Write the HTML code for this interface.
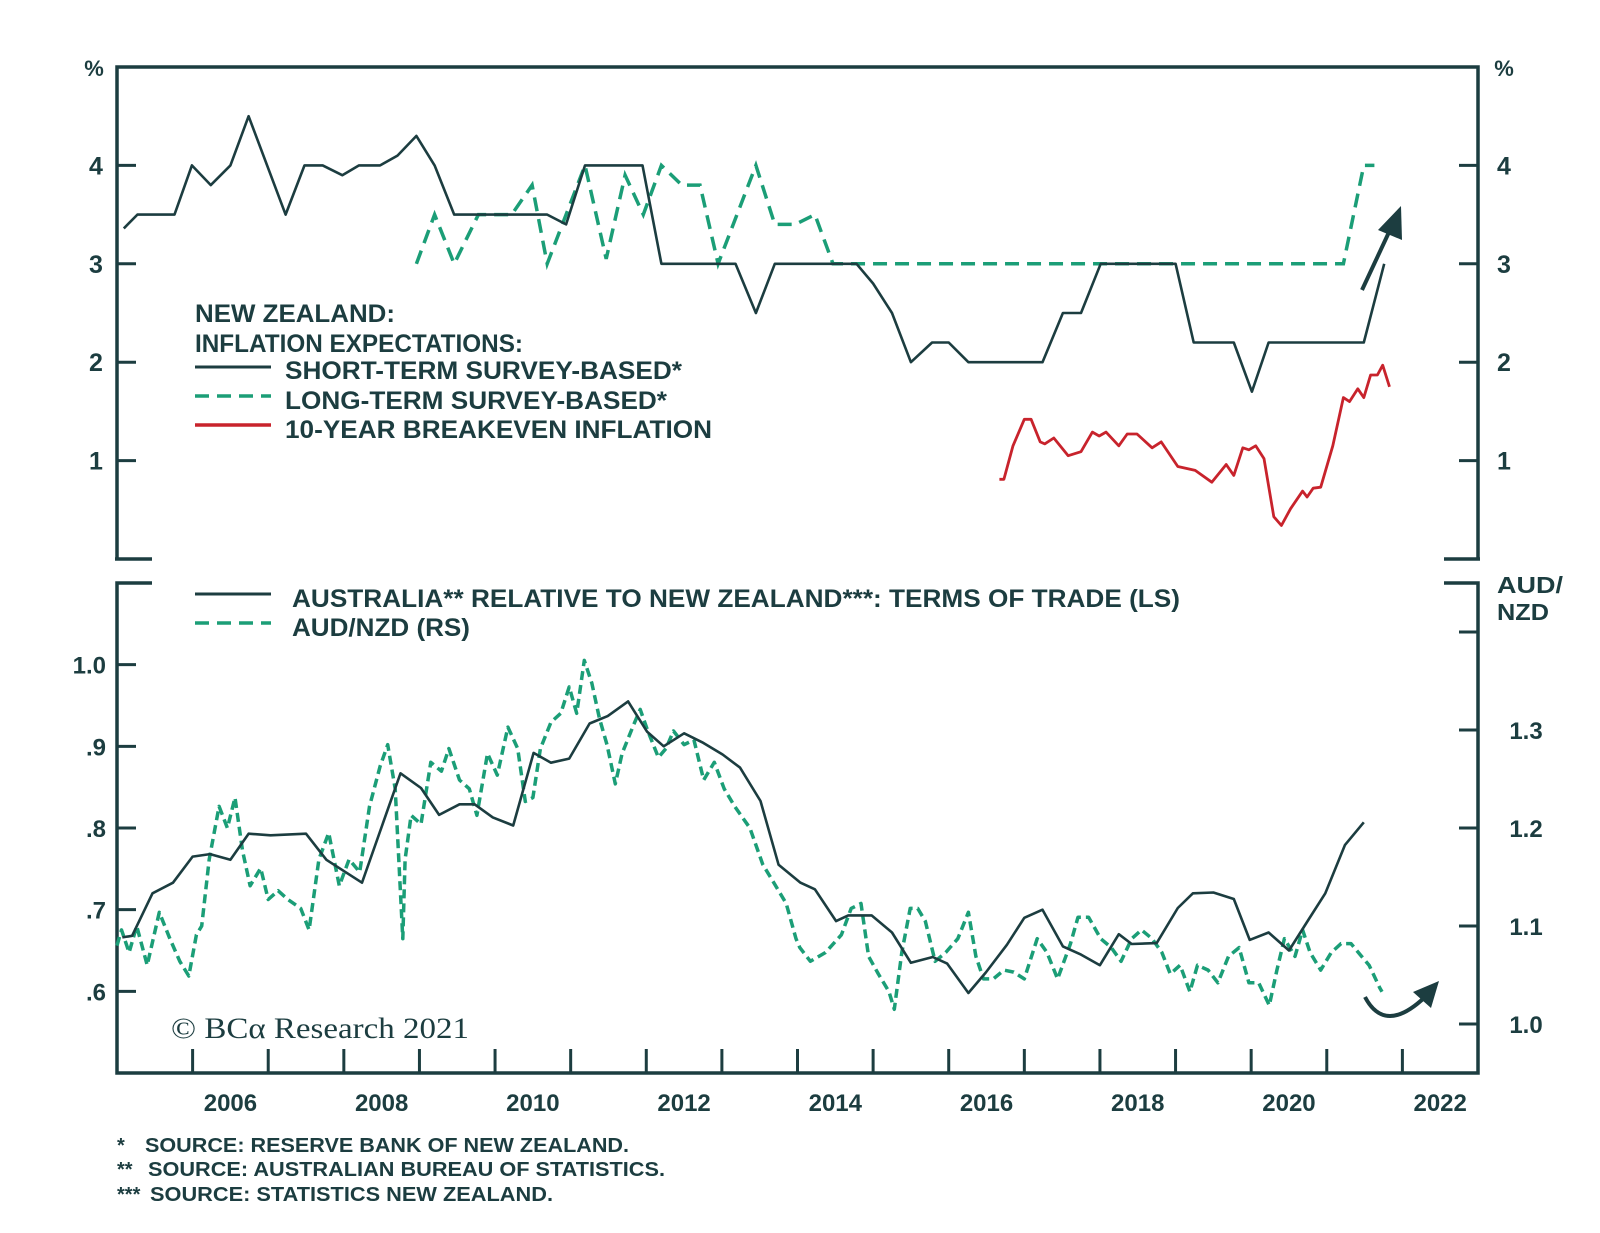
<!DOCTYPE html>
<html><head><meta charset="utf-8"><style>
html,body{margin:0;padding:0;background:#fff;}
svg{display:block;}
text{font-family:"Liberation Sans",Arial,sans-serif;font-weight:bold;fill:#1c3d40;}
</style></head><body>
<svg id="chart" width="1600" height="1233" viewBox="0 0 1600 1233" xmlns="http://www.w3.org/2000/svg">
<g id="frame" stroke="#1c3d40" stroke-width="3.5" fill="none">
  <polyline points="117,559 117,67 1478,67 1478,559" />
  <line x1="115" y1="559" x2="152" y2="559"/>
  <line x1="1444" y1="559" x2="1480" y2="559"/>
  <polyline points="152,583 117,583 117,1073 1478,1073 1478,583 1444,583"/>
</g>
<g id="ticks" stroke="#1c3d40" stroke-width="3"></g>
<g id="labels"></g>
<g id="series"></g>

<text x="94" y="76" font-size="22" text-anchor="middle">%</text>
<text x="1504" y="76" font-size="22" text-anchor="middle">%</text>
<text x="1497" y="593" font-size="23" textLength="66" lengthAdjust="spacingAndGlyphs">AUD/</text>
<text x="1497" y="620" font-size="23" textLength="52" lengthAdjust="spacingAndGlyphs">NZD</text>

<g>
  <text x="195" y="322" font-size="25" textLength="200" lengthAdjust="spacingAndGlyphs">NEW ZEALAND:</text>
  <text x="195" y="352" font-size="25" textLength="328" lengthAdjust="spacingAndGlyphs">INFLATION EXPECTATIONS:</text>
  <line x1="195" y1="367" x2="271" y2="367" stroke="#1c3d40" stroke-width="3"/>
  <text x="285" y="379" font-size="25" textLength="397" lengthAdjust="spacingAndGlyphs">SHORT-TERM SURVEY-BASED*</text>
  <line x1="195" y1="396" x2="271" y2="396" stroke="#1b9e77" stroke-width="3.5" stroke-dasharray="14 8"/>
  <text x="285" y="409" font-size="25" textLength="382" lengthAdjust="spacingAndGlyphs">LONG-TERM SURVEY-BASED*</text>
  <line x1="195" y1="425" x2="271" y2="425" stroke="#c8232c" stroke-width="3.5"/>
  <text x="285" y="438" font-size="25" textLength="427" lengthAdjust="spacingAndGlyphs">10-YEAR BREAKEVEN INFLATION</text>
</g>
<g>
  <line x1="195" y1="594" x2="271" y2="594" stroke="#1c3d40" stroke-width="3"/>
  <text x="292" y="607" font-size="25" textLength="888" lengthAdjust="spacingAndGlyphs">AUSTRALIA** RELATIVE TO NEW ZEALAND***: TERMS OF TRADE (LS)</text>
  <line x1="195" y1="623" x2="271" y2="623" stroke="#1b9e77" stroke-width="3.5" stroke-dasharray="14 8"/>
  <text x="292" y="636" font-size="25" textLength="178" lengthAdjust="spacingAndGlyphs">AUD/NZD (RS)</text>
</g>

<text x="171" y="1038" font-size="30" textLength="298" lengthAdjust="spacingAndGlyphs" style="font-family:'Liberation Serif',serif;font-weight:normal">© BCα Research 2021</text>

<g>
  <line x1="1362" y1="290" x2="1390" y2="230" stroke="#1c3d40" stroke-width="4"/>
  <polygon points="1401,206 1378,230 1402,240" fill="#1c3d40"/>
  <path d="M1365,997 Q1385,1035 1425,997" stroke="#1c3d40" stroke-width="4" fill="none"/>
  <polygon points="1439,981 1413,992 1431,1008" fill="#1c3d40"/>
</g>

<g>
  <text x="117" y="1152" font-size="20">*</text>
  <text x="145" y="1152" font-size="20" textLength="484" lengthAdjust="spacingAndGlyphs">SOURCE: RESERVE BANK OF NEW ZEALAND.</text>
  <text x="117" y="1176" font-size="20">**</text>
  <text x="148" y="1176" font-size="20" textLength="517" lengthAdjust="spacingAndGlyphs">SOURCE: AUSTRALIAN BUREAU OF STATISTICS.</text>
  <text x="117" y="1201" font-size="20">***</text>
  <text x="150" y="1201" font-size="20" textLength="403" lengthAdjust="spacingAndGlyphs">SOURCE: STATISTICS NEW ZEALAND.</text>
</g>
</svg>
<script>
const xYears = [2006,2007,2008,2009,2010,2011,2012,2013,2014,2015,2016,2017,2018,2019,2020,2021,2022];
const xLabels = ["2006","2008","2010","2012","2014","2016","2018","2020","2022"];
const topTicks = [1,2,3,4];
const botLeftTicks = [0.6,0.7,0.8,0.9,1.0];
const botLeftLabels = [".6",".7",".8",".9","1.0"];
const botRightTicks = [1.0,1.1,1.2,1.3,1.4];
const botRightLabels = ["1.0","1.1","1.2","1.3",""];

const stYears = [2005.09,2005.27,2005.76,2005.99,2006.24,2006.5,2006.74,2007.23,2007.48,2007.72,2007.98,2008.2,2008.48,2008.71,2008.96,2009.2,2009.46,2010.69,2010.94,2011.19,2011.95,2012.2,2013.18,2013.45,2013.7,2014.78,2015.0,2015.25,2015.5,2015.78,2016.0,2016.26,2017.24,2017.51,2017.75,2018.01,2019.0,2019.24,2019.77,2020.01,2020.23,2021.49,2021.76];
const stVals = [3.36,3.5,3.5,4.0,3.8,4.0,4.5,3.5,4.0,4.0,3.9,4.0,4.0,4.1,4.3,4.0,3.5,3.5,3.4,4.0,4.0,3.0,3.0,2.5,3.0,3.0,2.8,2.5,2.0,2.2,2.2,2.0,2.0,2.5,2.5,3.0,3.0,2.2,2.2,1.7,2.2,2.2,3.0];

const ltYears = [2008.96,2009.2,2009.46,2009.78,2010.22,2010.49,2010.69,2011.19,2011.47,2011.72,2011.96,2012.2,2012.47,2012.71,2012.95,2013.45,2013.7,2013.97,2014.23,2014.47,2021.22,2021.49,2021.63];
const ltVals = [3.0,3.5,3.0,3.5,3.5,3.8,3.0,4.0,3.05,3.9,3.5,4.0,3.8,3.8,3.0,4.0,3.4,3.4,3.5,3.0,3.0,4.0,4.0];

const beYears = [2016.67,2016.73,2016.85,2017.0,2017.09,2017.21,2017.27,2017.39,2017.58,2017.75,2017.9,2017.99,2018.08,2018.25,2018.36,2018.49,2018.69,2018.81,2019.03,2019.26,2019.48,2019.67,2019.77,2019.89,2019.97,2020.06,2020.17,2020.3,2020.4,2020.52,2020.68,2020.74,2020.82,2020.92,2021.08,2021.22,2021.3,2021.41,2021.49,2021.58,2021.67,2021.74,2021.83];
const beVals = [0.81,0.81,1.15,1.42,1.42,1.19,1.17,1.23,1.05,1.09,1.29,1.25,1.29,1.15,1.27,1.27,1.13,1.19,0.94,0.9,0.78,0.96,0.85,1.13,1.11,1.15,1.02,0.43,0.34,0.51,0.69,0.63,0.72,0.73,1.15,1.64,1.6,1.73,1.64,1.87,1.87,1.97,1.75];

const totYears = [2005.07,2005.2,2005.47,2005.74,2006.0,2006.23,2006.5,2006.74,2007.03,2007.5,2007.77,2008.24,2008.75,2009.02,2009.26,2009.53,2009.73,2009.97,2010.24,2010.51,2010.74,2010.98,2011.25,2011.49,2011.76,2012.01,2012.23,2012.5,2012.74,2013.01,2013.24,2013.51,2013.75,2014.04,2014.23,2014.51,2014.67,2014.98,2015.25,2015.5,2015.79,2015.98,2016.26,2016.49,2016.77,2017.0,2017.24,2017.51,2017.75,2018.0,2018.25,2018.42,2018.75,2019.03,2019.23,2019.5,2019.77,2019.98,2020.23,2020.5,2020.76,2020.98,2021.24,2021.49];
const totVals = [0.666,0.668,0.72,0.733,0.765,0.768,0.761,0.793,0.791,0.793,0.761,0.733,0.867,0.849,0.816,0.829,0.829,0.813,0.803,0.892,0.88,0.885,0.928,0.937,0.955,0.918,0.9,0.916,0.905,0.89,0.874,0.833,0.755,0.733,0.725,0.686,0.693,0.693,0.672,0.635,0.642,0.634,0.598,0.623,0.657,0.69,0.7,0.655,0.645,0.632,0.67,0.658,0.659,0.702,0.72,0.721,0.713,0.663,0.672,0.65,0.688,0.72,0.779,0.807];

const fxYears = [2005.0,2005.06,2005.16,2005.26,2005.4,2005.56,2005.7,2005.83,2005.95,2006.05,2006.12,2006.22,2006.35,2006.46,2006.56,2006.66,2006.76,2006.9,2007.0,2007.13,2007.26,2007.43,2007.54,2007.67,2007.8,2007.94,2008.07,2008.21,2008.34,2008.48,2008.58,2008.68,2008.78,2008.81,2008.89,2009.02,2009.15,2009.29,2009.39,2009.53,2009.66,2009.76,2009.9,2010.03,2010.17,2010.3,2010.4,2010.5,2010.6,2010.74,2010.87,2010.98,2011.08,2011.18,2011.28,2011.38,2011.48,2011.59,2011.68,2011.82,2011.92,2012.02,2012.16,2012.26,2012.36,2012.5,2012.63,2012.76,2012.9,2013.03,2013.17,2013.37,2013.54,2013.68,2013.85,2013.98,2014.03,2014.17,2014.37,2014.58,2014.71,2014.84,2014.94,2015.07,2015.21,2015.28,2015.38,2015.49,2015.59,2015.69,2015.82,2015.96,2016.12,2016.26,2016.36,2016.46,2016.59,2016.73,2016.86,2017.0,2017.17,2017.3,2017.44,2017.61,2017.71,2017.85,2018.01,2018.15,2018.28,2018.42,2018.55,2018.69,2018.82,2018.93,2019.06,2019.19,2019.29,2019.43,2019.56,2019.7,2019.84,2019.97,2020.1,2020.24,2020.34,2020.44,2020.58,2020.68,2020.78,2020.92,2021.06,2021.19,2021.32,2021.46,2021.56,2021.7,2021.73];
const fxVals = [1.08,1.096,1.073,1.10,1.06,1.114,1.087,1.064,1.049,1.091,1.10,1.168,1.222,1.2,1.231,1.177,1.141,1.159,1.127,1.136,1.127,1.118,1.096,1.168,1.195,1.141,1.168,1.155,1.222,1.263,1.285,1.24,1.087,1.168,1.213,1.204,1.267,1.258,1.281,1.249,1.24,1.213,1.276,1.254,1.303,1.281,1.227,1.231,1.281,1.308,1.317,1.344,1.317,1.371,1.348,1.312,1.285,1.245,1.276,1.303,1.321,1.299,1.272,1.281,1.299,1.285,1.29,1.249,1.267,1.24,1.222,1.2,1.163,1.145,1.123,1.087,1.078,1.064,1.073,1.091,1.118,1.123,1.069,1.051,1.033,1.015,1.073,1.118,1.118,1.105,1.064,1.073,1.087,1.114,1.069,1.046,1.046,1.055,1.053,1.046,1.087,1.073,1.046,1.082,1.109,1.109,1.087,1.078,1.064,1.087,1.096,1.087,1.073,1.051,1.06,1.033,1.06,1.055,1.042,1.069,1.078,1.042,1.042,1.019,1.055,1.087,1.069,1.096,1.073,1.055,1.073,1.082,1.082,1.069,1.06,1.037,1.033];

const NS = "http://www.w3.org/2000/svg";
const X0 = 117, X1 = 1478, Y0 = 2005, Y1 = 2023;
function xs(yr){ return X0 + (yr - Y0) / (Y1 - Y0) * (X1 - X0); }
function yTop(v){ return 559 - v / 5 * (559 - 67); }
function yBotL(v){ return 1073 - (v - 0.5) / 0.6 * (1073 - 583); }
function yBotR(v){ return 1073 - (v - 0.95) / 0.5 * (1073 - 583); }

const ticks = document.getElementById('ticks');
const labels = document.getElementById('labels');
const series = document.getElementById('series');

function mk(tag, attrs, parent){
  const e = document.createElementNS(NS, tag);
  for (const k in attrs) e.setAttribute(k, attrs[k]);
  parent.appendChild(e);
  return e;
}

xYears.forEach(function(yr){
  const t = mk('line', {x1: xs(yr), x2: xs(yr), y1: 1049, y2: 1073}, ticks);
  
  
});
xLabels.forEach(function(lab){
  const yr = parseInt(lab, 10);
  const t = mk('text', {x: xs(yr + 0.5), y: 1111, 'font-size': 24, 'text-anchor': 'middle'}, labels);
  t.textContent = lab;
  
  
});
topTicks.forEach(function(v){
  const a = mk('line', {x1: 117, x2: 136, y1: yTop(v), y2: yTop(v)}, ticks);
  
  
  const b = mk('line', {x1: 1459, x2: 1478, y1: yTop(v), y2: yTop(v)}, ticks);
  
  
  const l = mk('text', {x: 96, y: yTop(v) + 9, 'font-size': 25, 'text-anchor': 'middle'}, labels);
  l.textContent = String(v);
  
  
  const r = mk('text', {x: 1504, y: yTop(v) + 9, 'font-size': 25, 'text-anchor': 'middle'}, labels);
  r.textContent = String(v);
  
  
});
botLeftTicks.forEach(function(v, i){
  const a = mk('line', {x1: 117, x2: 136, y1: yBotL(v), y2: yBotL(v)}, ticks);
  
  
  const l = mk('text', {x: 106, y: yBotL(v) + 9, 'font-size': 24, 'text-anchor': 'end'}, labels);
  l.textContent = botLeftLabels[i];
  
  
});
botRightTicks.forEach(function(v, i){
  const a = mk('line', {x1: 1459, x2: 1478, y1: yBotR(v), y2: yBotR(v)}, ticks);
  
  
  if (botRightLabels[i]) {
    const l = mk('text', {x: 1526, y: yBotR(v) + 9, 'font-size': 24, 'text-anchor': 'middle'}, labels);
    l.textContent = botRightLabels[i];
    
    
  }
});

function pts(years, vals, yf){
  return years.map(function(yr, i){ return xs(yr).toFixed(1) + ',' + yf(vals[i]).toFixed(1); }).join(' ');
}
const fx = mk('polyline', {points: pts(fxYears, fxVals, yBotR), fill: 'none', stroke: '#1b9e77', 'stroke-width': 3.5, 'stroke-dasharray': '9 5', 'stroke-linejoin': 'round'}, series);


const tot = mk('polyline', {points: pts(totYears, totVals, yBotL), fill: 'none', stroke: '#1c3d40', 'stroke-width': 2.6, 'stroke-linejoin': 'round'}, series);


const lt = mk('polyline', {points: pts(ltYears, ltVals, yTop), fill: 'none', stroke: '#1b9e77', 'stroke-width': 3.5, 'stroke-dasharray': '14 8'}, series);


const st = mk('polyline', {points: pts(stYears, stVals, yTop), fill: 'none', stroke: '#1c3d40', 'stroke-width': 2.6, 'stroke-linejoin': 'round'}, series);


const be = mk('polyline', {points: pts(beYears, beVals, yTop), fill: 'none', stroke: '#c8232c', 'stroke-width': 2.8, 'stroke-linejoin': 'round'}, series);


</script>
</body></html>
